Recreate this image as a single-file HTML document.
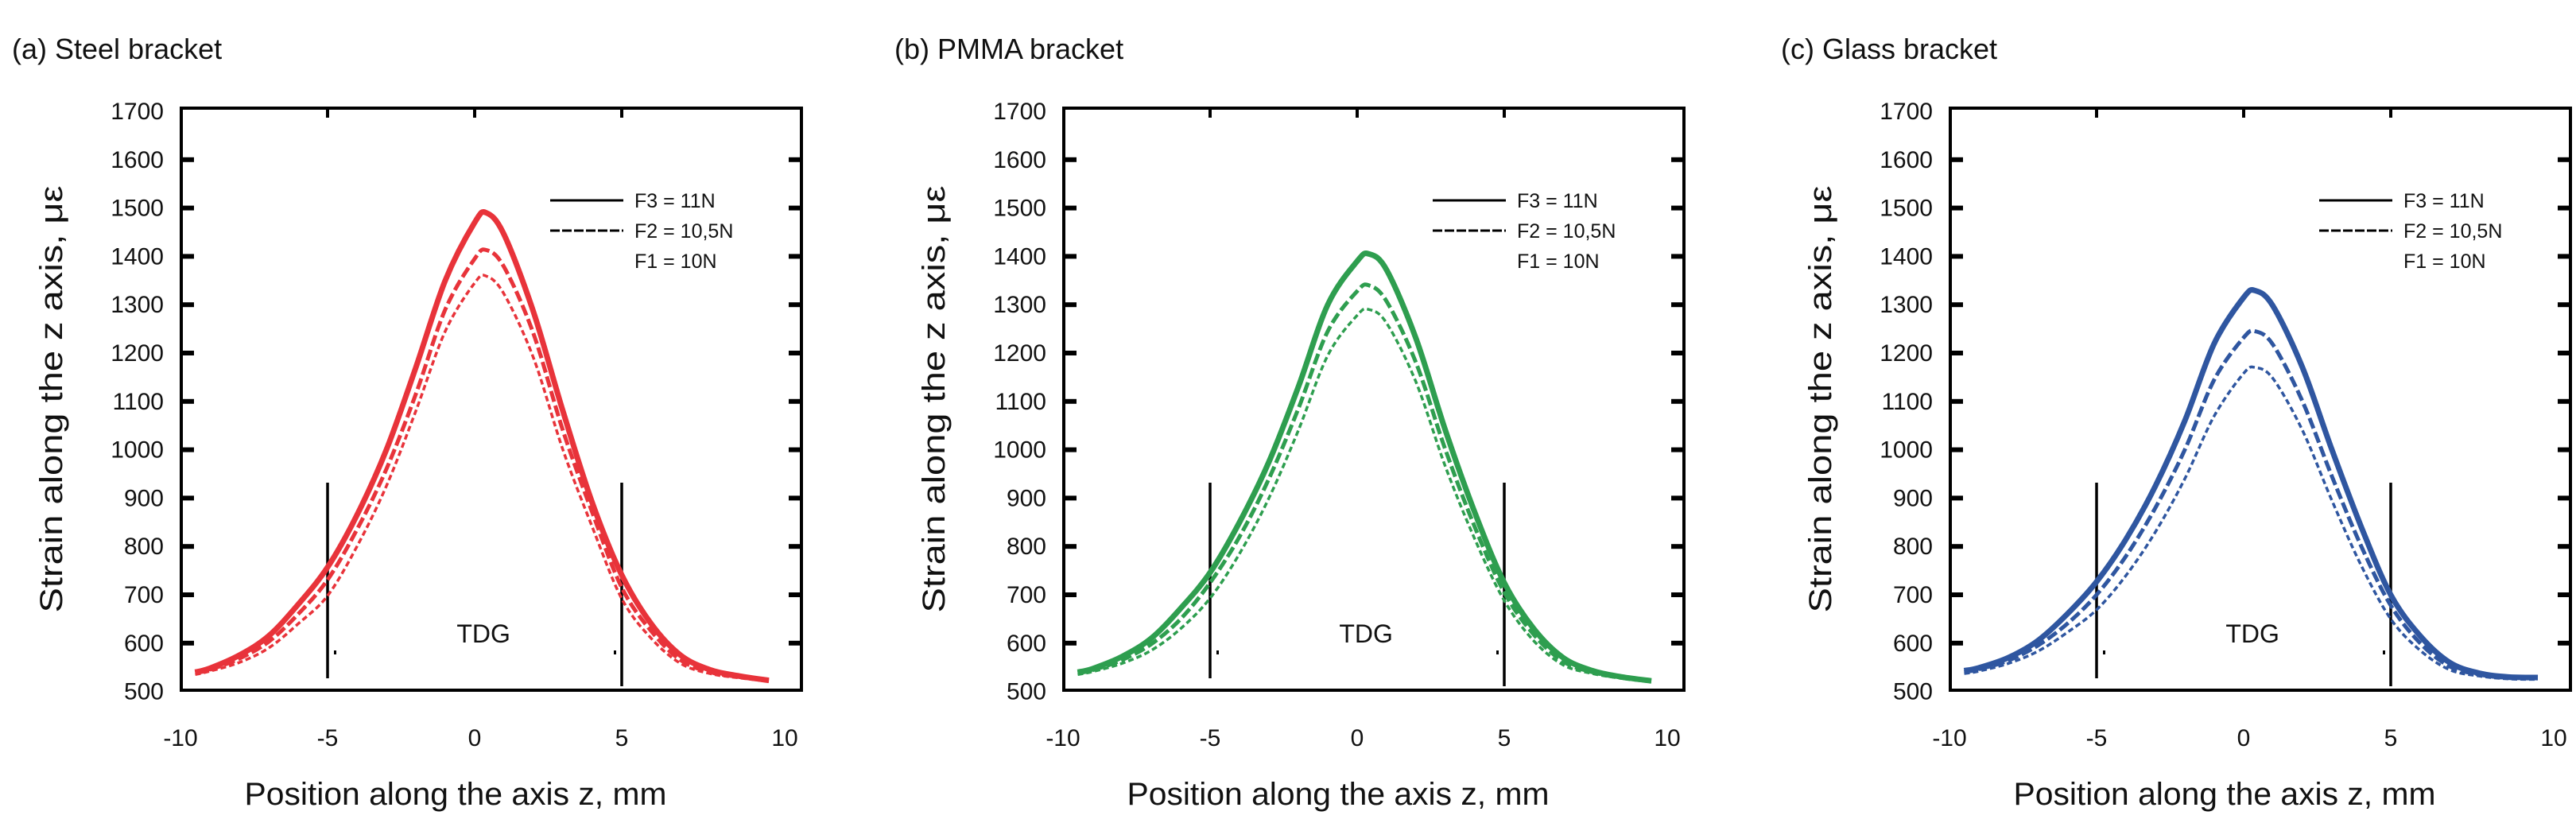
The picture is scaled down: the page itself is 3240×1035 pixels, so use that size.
<!DOCTYPE html>
<html><head><meta charset="utf-8"><style>
html,body{margin:0;padding:0;background:#fff;}
svg{display:block;font-family:"Liberation Sans",sans-serif;}
</style></head><body>
<svg id="fig" width="3240" height="1035" viewBox="0 0 3240 1035"></svg>
<script>
const zPos=[-9.5,-9,-8,-7,-6,-5,-4,-3,-2,-1,0,0.4,1,2,3,4,5,6,7,8,9,10];
const aF3=[540,548,575,615,680,757,865,1000,1170,1350,1470,1490,1445,1285,1080,890,741,640,575,545,532,523];
const aF2=[538,545,568,603,660,731,835,960,1115,1290,1395,1413,1378,1240,1040,870,715,625,565,540,530,522];
const aF1=[535,542,560,590,640,698,800,925,1080,1245,1345,1359,1322,1190,1000,840,692,610,558,537,528,521];
const bF3=[540,547,572,610,672,746,850,975,1130,1300,1390,1405,1372,1230,1040,870,725,630,570,543,530,522];
const bF2=[538,544,565,598,650,725,820,940,1085,1245,1328,1340,1307,1180,1000,840,705,618,562,540,528,521];
const bF1=[535,541,558,585,630,693,785,900,1040,1195,1278,1290,1262,1140,965,815,688,605,555,537,527,520];
const cF3=[543,549,570,605,660,727,815,925,1060,1220,1315,1329,1297,1170,1000,840,700,615,560,538,530,529];
const cF2=[540,546,564,595,640,700,780,880,1000,1145,1232,1245,1217,1100,945,800,678,600,552,535,528,527];
const cF1=[537,542,558,583,622,669,740,830,940,1070,1158,1170,1147,1040,895,760,650,585,545,532,526,525];
const yTicks=[500,600,700,800,900,1000,1100,1200,1300,1400,1500,1600,1700];
const xTicks=[-10,-5,0,5,10];
const legendLabels=["F3 = 11N","F2 = 10,5N","F1 = 10N"];
const titles=["(a) Steel bracket","(b) PMMA bracket","(c) Glass bracket"];

const NS="http://www.w3.org/2000/svg";
const svg=document.getElementById('fig');
function mk(tag,attrs,parent){const e=document.createElementNS(NS,tag);for(const k in attrs)e.setAttribute(k,attrs[k]);(parent||svg).appendChild(e);return e;}

function smooth(pts){
  let d=`M${pts[0][0]},${pts[0][1]}`;
  for(let i=0;i<pts.length-1;i++){
    const p0=pts[Math.max(0,i-1)],p1=pts[i],p2=pts[i+1],p3=pts[Math.min(pts.length-1,i+2)];
    const c1x=p1[0]+(p2[0]-p0[0])/6,c1y=p1[1]+(p2[1]-p0[1])/6;
    const c2x=p2[0]-(p3[0]-p1[0])/6,c2y=p2[1]-(p3[1]-p1[1])/6;
    d+=` C${c1x},${c1y} ${c2x},${c2y} ${p2[0]},${p2[1]}`;
  }
  return d;
}

function panel(idx,L,color,s3,s2,s1){
  const W=780,T=136,B=868;
  const g=mk('g',{});
  
  
  const X=z=>L+369+37*z;
  const Y=v=>140+(1700-v)*0.608;
  const t=mk('text',{x:L-213,y:74,'font-size':36,fill:'#111'},g);t.textContent=titles[idx];
  
  
  yTicks.forEach(v=>{
    const y=Y(v);
    const tl=mk('text',{x:L-22,y:y+10,'font-size':30,'text-anchor':'end',fill:'#111'},g);tl.textContent=v;
    
    
    if(v>500&&v<1700){
      mk('line',{x1:L,x2:L+16,y1:y,y2:y,stroke:'#000','stroke-width':6},g);
      mk('line',{x1:L+W-16,x2:L+W,y1:y,y2:y,stroke:'#000','stroke-width':6},g);
    }
  });
  xTicks.forEach(z=>{
    const tl=mk('text',{x:X(z)+(z===10?20:0),y:938,'font-size':30,'text-anchor':'middle',fill:'#111'},g);tl.textContent=z;
    
    
    if(z>-10&&z<10) mk('line',{x1:X(z),x2:X(z),y1:T,y2:T+12,stroke:'#000','stroke-width':4},g);
  });
  const yl=mk('text',{x:0,y:0,'font-size':40,'text-anchor':'middle',fill:'#111',transform:`translate(${L-150},502) rotate(-90)`,textLength:537,lengthAdjust:'spacingAndGlyphs'},g);
  yl.textContent='Strain along the z axis, με';
  
  
  const xl=mk('text',{x:L+345,y:1012,'font-size':40,'text-anchor':'middle',fill:'#111',textLength:531,lengthAdjust:'spacingAndGlyphs'},g);
  xl.textContent='Position along the axis z, mm';
  
  
  [-5,5].forEach(z=>{
    const ln=mk('line',{x1:X(z),x2:X(z),y1:607,y2:z<0?853:863,stroke:'#000','stroke-width':3.5},g);
    
    
    mk('rect',{x:X(z)+(z<0?8:-10),y:818,width:3,height:5,fill:'#000'},g);
  });
  const td=mk('text',{x:X(0.3),y:808,'font-size':32,'text-anchor':'middle',fill:'#111'},g);td.textContent='TDG';
  
  
  const styles=[[s3,7,'none'],[s2,5,'14 5'],[s1,3.5,'7 4']];
  styles.forEach((st,k)=>{
    const pts=zPos.map((z,i)=>[X(z),Y(st[0][i])]);
    const p=mk('path',{d:smooth(pts),fill:'none',stroke:color,'stroke-width':st[1],'stroke-dasharray':st[2],'stroke-linejoin':'round'},g);
    
    
  });
  const lg=mk('g',{},g);
  
  
  mk('line',{x1:L+464,x2:L+556,y1:252,y2:252,stroke:'#000','stroke-width':3},lg);
  mk('line',{x1:L+464,x2:L+556,y1:290,y2:290,stroke:'#000','stroke-width':3,'stroke-dasharray':'12 3'},lg);
  legendLabels.forEach((s,k)=>{
    const e=mk('text',{x:L+570,y:261+38*k,'font-size':25,fill:'#111'},lg);e.textContent=s;
    
    
  });
  const box=mk('rect',{x:L,y:T,width:W,height:B-T,fill:'none',stroke:'#000','stroke-width':4},g);
  
  
}
panel(0,228,'#e8333a',aF3,aF2,aF1);
panel(1,1338,'#2e9e4f',bF3,bF2,bF1);
panel(2,2453,'#2f56a0',cF3,cF2,cF1);
</script>
</body></html>
